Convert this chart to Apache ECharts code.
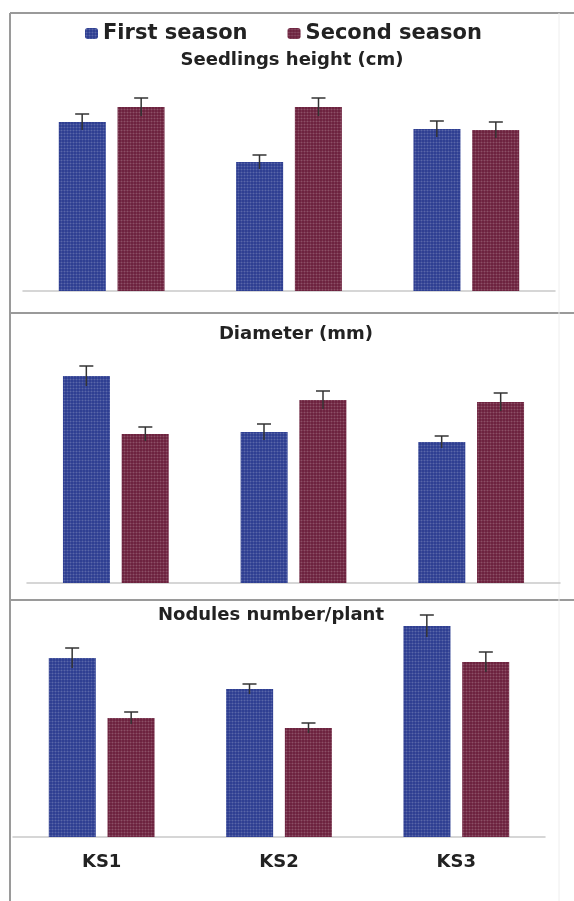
<!DOCTYPE html>
<html>
<head>
<meta charset="utf-8">
<script src="https://cdn.jsdelivr.net/npm/echarts@6/dist/echarts.min.js"></script>
<style>
  html, body { margin: 0; padding: 0; background: #fff; }
  #chart { width: 574px; height: 901px; }
</style>
</head>
<body>
<div id="chart"></div>
<script>
// bar heights (no y scale shown, so arbitrary units)
const categories = ['KS1', 'KS2', 'KS3']
const seasons = ['First season', 'Second season']

const heightFirst = [169, 129, 162]
const heightSecond = [184, 184, 161]
const heightErrFirst = [8, 7, 8]
const heightErrSecond = [9, 9, 8]

const diamFirst = [207, 151, 141]
const diamSecond = [149, 183, 181]
const diamErrFirst = [10, 8, 6]
const diamErrSecond = [7, 9, 9]

const nodFirst = [179, 148, 211]
const nodSecond = [119, 109, 175]
const nodErrFirst = [10, 5, 11]
const nodErrSecond = [6, 5, 10]

const blue = '#2b3c90'
const maroon = '#6b1f3c'
const font = 'DejaVu Sans'

const chartDom = document.getElementById('chart')
const myChart = echarts.init(chartDom, null, { renderer: 'canvas' })

const dots = {
  symbol: 'circle',
  symbolSize: 0.7,
  dashArrayX: [3, 0],
  dashArrayY: [3, 0],
  color: 'rgba(255,255,255,0.22)',
  rotation: 0
}

const panels = [
  { first: heightFirst, second: heightSecond, e1: heightErrFirst, e2: heightErrSecond, left: 23, right: 19, top: 91, height: 200, max: 200 },
  { first: diamFirst, second: diamSecond, e1: diamErrFirst, e2: diamErrSecond, left: 27, right: 14, top: 353, height: 230, max: 230 },
  { first: nodFirst, second: nodSecond, e1: nodErrFirst, e2: nodErrSecond, left: 13, right: 29, top: 617, height: 220, max: 220 }
]

const barWidth = 47
const shift = 29.5

function errorSeries(i, values, errs, dir) {
  return {
    type: 'custom',
    xAxisIndex: i,
    yAxisIndex: i,
    silent: true,
    z: 5,
    data: values.map((v, k) => [k, v, errs[k]]),
    renderItem: function (params, api) {
      const k = api.value(0)
      const v = api.value(1)
      const e = api.value(2)
      const hi = api.coord([k, v + e])
      const lo = api.coord([k, v - e])
      const x = hi[0] + dir * shift
      const style = { stroke: '#333', lineWidth: 1.5 }
      return {
        type: 'group',
        children: [
          { type: 'line', shape: { x1: x, y1: hi[1], x2: x, y2: lo[1] }, style: style },
          { type: 'line', shape: { x1: x - 7, y1: hi[1], x2: x + 7, y2: hi[1] }, style: style }
        ]
      }
    }
  }
}

const grid = [], xAxis = [], yAxis = [], series = []
panels.forEach((p, i) => {
  grid.push({ left: p.left, right: p.right, top: p.top, height: p.height })
  xAxis.push({
    type: 'category',
    gridIndex: i,
    data: categories,
    axisLine: { lineStyle: { color: '#c9c9c9', width: 1.5 } },
    axisTick: { show: false },
    axisLabel: {
      show: i === 2,
      margin: 16,
      fontFamily: font,
      fontWeight: 'bold',
      fontSize: 18,
      color: '#222'
    }
  })
  yAxis.push({ type: 'value', gridIndex: i, min: 0, max: p.max, show: false, splitLine: { show: false } })
  series.push({
    name: seasons[0], type: 'bar', xAxisIndex: i, yAxisIndex: i,
    data: p.first, barWidth: barWidth, barGap: '25%',
    itemStyle: { color: blue, decal: dots }
  })
  series.push({
    name: seasons[1], type: 'bar', xAxisIndex: i, yAxisIndex: i,
    data: p.second, barWidth: barWidth, barGap: '25%',
    itemStyle: { color: maroon, decal: dots }
  })
  series.push(errorSeries(i, p.first, p.e1, -1))
  series.push(errorSeries(i, p.second, p.e2, 1))
})

const titleStyle = { fontFamily: font, fontWeight: 'bold', fontSize: 18, color: '#222' }
const frame = { stroke: '#9a9a9a', lineWidth: 2 }

const option = {
  animation: false,
  backgroundColor: '#fff',
  title: [
    { text: 'Seedlings height (cm)', left: 287, top: 46, textAlign: 'center', textStyle: titleStyle },
    { text: 'Diameter (mm)', left: 291, top: 320, textAlign: 'center', textStyle: titleStyle },
    { text: 'Nodules number/plant', left: 266, top: 601, textAlign: 'center', textStyle: titleStyle }
  ],
  legend: {
    data: seasons,
    top: 18,
    left: 80,
    itemWidth: 13,
    itemHeight: 11,
    itemGap: 40,
    textStyle: { fontFamily: font, fontWeight: 'bold', fontSize: 21, color: '#222' }
  },
  graphic: [
    { type: 'line', shape: { x1: 10, y1: 13, x2: 10, y2: 901 }, style: frame },
    { type: 'line', shape: { x1: 10, y1: 13, x2: 574, y2: 13 }, style: frame },
    { type: 'line', shape: { x1: 10, y1: 313, x2: 574, y2: 313 }, style: frame },
    { type: 'line', shape: { x1: 10, y1: 600, x2: 574, y2: 600 }, style: frame },
    { type: 'line', shape: { x1: 559, y1: 13, x2: 559, y2: 901 }, style: { stroke: '#eeeeee', lineWidth: 1 } }
  ],
  grid: grid,
  xAxis: xAxis,
  yAxis: yAxis,
  series: series
}

myChart.setOption(option)
</script>
</body>
</html>
